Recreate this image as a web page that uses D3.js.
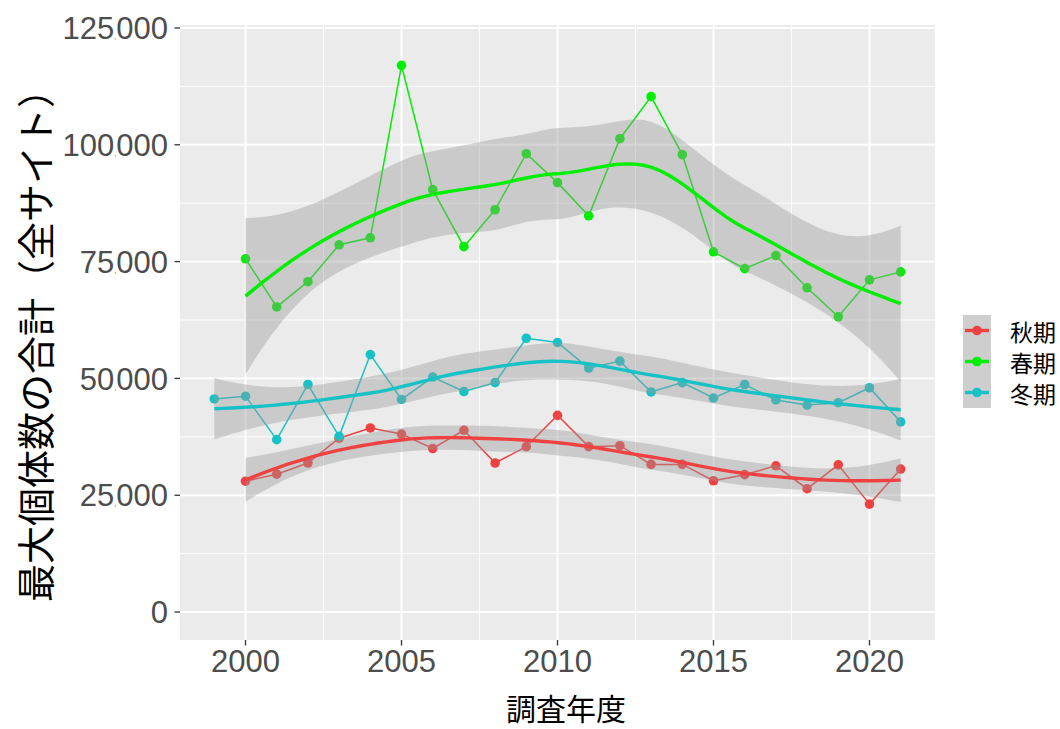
<!DOCTYPE html>
<html>
<head>
<meta charset="utf-8">
<script src="https://cdn.jsdelivr.net/npm/d3@7/dist/d3.min.js"></script>
<style>
body { margin: 0; background: #fff; }
text { font-family: "Liberation Sans", Arial, sans-serif; }
.jp { font-family: "Noto Sans CJK JP", sans-serif; }
</style>
</head>
<body>
<svg id="chart" width="1060" height="729"></svg>
<script>
// series
var seasons = ["秋期", "春期", "冬期"];
var seasonColors = ["#EE4242", "#00EE00", "#17C2C6"];

var autumnYears = [2000,2001,2002,2003,2004,2005,2006,2007,2008,2009,2010,2011,2012,2013,2014,2015,2016,2017,2018,2019,2020,2021];
var autumnValues = [28000,29500,31900,37200,39400,38100,35000,38900,31900,35400,42100,35400,35600,31600,31600,28100,29400,31300,26400,31500,23100,30600];

var springYears = [2000,2001,2002,2003,2004,2005,2006,2007,2008,2009,2010,2011,2012,2013,2014,2015,2016,2017,2018,2019,2020,2021];
var springValues = [75600,65300,70700,78600,80100,117000,90400,78200,86100,98100,91900,84800,101300,110300,97900,77100,73500,76300,69400,63200,71100,72800];

var winterYears = [1999,2000,2001,2002,2003,2004,2005,2006,2007,2008,2009,2010,2011,2012,2013,2014,2015,2016,2017,2018,2019,2020,2021];
var winterValues = [45600,46200,36900,48700,37600,55100,45500,50300,47200,49100,58600,57700,52200,53700,47100,49100,45800,48700,45400,44300,44800,48000,40700];

var yTicks = [0, 25000, 50000, 75000, 100000, 125000];
var yMinor = [12500, 37500, 62500, 87500, 112500];
var xTicks = [2000, 2005, 2010, 2015, 2020];
var xMinor = [2002.5, 2007.5, 2012.5, 2017.5];

var groups = [
  { name: seasons[0], color: seasonColors[0], x: autumnYears, y: autumnValues },
  { name: seasons[1], color: seasonColors[1], x: springYears, y: springValues },
  { name: seasons[2], color: seasonColors[2], x: winterYears, y: winterValues }
];

// --- loess (degree 2, span 0.75) with kd-tree vertices + cubic hermite, like R's default
function inv3(A) {
  var a = A[0][0], b = A[0][1], c = A[0][2], d = A[1][0], e = A[1][1], f = A[1][2], g = A[2][0], h = A[2][1], k = A[2][2];
  var det = a * (e * k - f * h) - b * (d * k - f * g) + c * (d * h - e * g);
  return [
    [(e * k - f * h) / det, (c * h - b * k) / det, (b * f - c * e) / det],
    [(f * g - d * k) / det, (a * k - c * g) / det, (c * d - a * f) / det],
    [(d * h - e * g) / det, (b * g - a * h) / det, (a * e - b * d) / det]
  ];
}

// operator rows for value and slope of the local fit at x0
function localOp(xs, x0, span) {
  var n = xs.length, q = Math.floor(n * span);
  var d = xs.map(function(x) { return Math.abs(x - x0); });
  var h = d.slice().sort(function(a, b) { return a - b; })[q - 1];
  var w = d.map(function(v) { var r = v / h; return r < 0.999 ? Math.pow(1 - r * r * r, 3) : 0; });
  var A = [[0,0,0],[0,0,0],[0,0,0]];
  xs.forEach(function(x, i) {
    var u = [1, x - x0, (x - x0) * (x - x0)];
    for (var j = 0; j < 3; j++) for (var k = 0; k < 3; k++) A[j][k] += w[i] * u[j] * u[k];
  });
  var Ai = inv3(A);
  var val = [], slope = [];
  xs.forEach(function(x, i) {
    var dx = x - x0;
    val.push(w[i] * (Ai[0][0] + Ai[0][1] * dx + Ai[0][2] * dx * dx));
    slope.push(w[i] * (Ai[1][0] + Ai[1][1] * dx + Ai[1][2] * dx * dx));
  });
  return { val: val, slope: slope };
}

// cells split at the median point until they hold few points
function kdVertices(xs, span) {
  var n = xs.length, fc = Math.floor(n * span * 0.2);
  var lo = xs[0], hi = xs[n - 1], mu = 0.005 * (hi - lo);
  var verts = [lo - mu, hi + mu];
  (function split(l, u) {
    if (u - l + 1 <= fc) return;
    var m = Math.floor((l + 1 + u + 1) / 2) - 1;
    verts.push(xs[m]);
    split(l, m);
    split(m + 1, u);
  })(0, n - 1);
  return verts.sort(function(a, b) { return a - b; });
}

function makeInterp(xs, span) {
  var verts = kdVertices(xs, span);
  var ops = verts.map(function(v) { return localOp(xs, v, span); });
  return function(x0) {
    var k = 0;
    while (k < verts.length - 2 && x0 > verts[k + 1]) k++;
    var h = verts[k + 1] - verts[k], t = (x0 - verts[k]) / h;
    var h00 = 2 * t * t * t - 3 * t * t + 1, h10 = t * t * t - 2 * t * t + t;
    var h01 = -2 * t * t * t + 3 * t * t, h11 = t * t * t - t * t;
    var a = ops[k], b = ops[k + 1];
    return a.val.map(function(v, i) {
      return h00 * v + h10 * h * a.slope[i] + h01 * b.val[i] + h11 * h * b.slope[i];
    });
  };
}

function qt975(df) {
  var z = 1.959964, z2 = z * z;
  var g1 = (z2 + 1) * z / 4;
  var g2 = ((5 * z2 + 16) * z2 + 3) * z / 96;
  var g3 = (((3 * z2 + 19) * z2 + 17) * z2 - 15) * z / 384;
  var g4 = ((((79 * z2 + 776) * z2 + 1482) * z2 - 1920) * z2 - 945) * z / 92160;
  return z + g1 / df + g2 / Math.pow(df, 2) + g3 / Math.pow(df, 3) + g4 / Math.pow(df, 4);
}

function smooth(xs, ys) {
  var n = xs.length, span = 0.75;
  var op = makeInterp(xs, span);
  var L = xs.map(function(x) { return op(x); });
  var IL = L.map(function(row, i) { return row.map(function(v, j) { return (i === j ? 1 : 0) - v; }); });
  var Mx = [];
  for (var i = 0; i < n; i++) {
    Mx.push([]);
    for (var j = 0; j < n; j++) {
      var s = 0;
      for (var k = 0; k < n; k++) s += IL[k][i] * IL[k][j];
      Mx[i].push(s);
    }
  }
  var d1 = 0, d2 = 0;
  for (var a = 0; a < n; a++) { d1 += Mx[a][a]; for (var b = 0; b < n; b++) d2 += Mx[a][b] * Mx[a][b]; }
  var rss = 0;
  L.forEach(function(row, i) { var f = d3.sum(row, function(v, j) { return v * ys[j]; }); rss += (ys[i] - f) * (ys[i] - f); });
  var sigma = Math.sqrt(rss / d1), t = qt975(d1 * d1 / d2);
  var lo = d3.min(xs), hi = d3.max(xs);
  return d3.range(80).map(function(i) {
    var x0 = lo + i * (hi - lo) / 79;
    var row = op(x0);
    var fit = d3.sum(row, function(v, j) { return v * ys[j]; });
    var se = sigma * Math.sqrt(d3.sum(row, function(v) { return v * v; }));
    return { x: x0, fit: fit, lo: fit - t * se, hi: fit + t * se };
  });
}

var svg = d3.select("#chart");
var panel = { left: 180, right: 935, top: 25, bottom: 640 };

var x = d3.scaleLinear().domain([1997.9, 2022.1]).range([panel.left, panel.right]);
var y = d3.scaleLinear().domain([-5983, 125639]).range([panel.bottom, panel.top]);

svg.append("rect")
  .attr("x", panel.left).attr("y", panel.top)
  .attr("width", panel.right - panel.left).attr("height", panel.bottom - panel.top)
  .attr("fill", "#EBEBEB");

svg.append("clipPath").attr("id", "clip").append("rect")
  .attr("x", panel.left).attr("y", panel.top)
  .attr("width", panel.right - panel.left).attr("height", panel.bottom - panel.top);

var grid = svg.append("g");
grid.selectAll(".ymin").data(yMinor).enter().append("line")
  .attr("x1", panel.left).attr("x2", panel.right)
  .attr("y1", function(d) { return y(d); }).attr("y2", function(d) { return y(d); })
  .attr("stroke", "#fff").attr("stroke-width", 0.9);
grid.selectAll(".xmin").data(xMinor).enter().append("line")
  .attr("y1", panel.top).attr("y2", panel.bottom)
  .attr("x1", function(d) { return x(d); }).attr("x2", function(d) { return x(d); })
  .attr("stroke", "#fff").attr("stroke-width", 0.9);
grid.selectAll(".ymaj").data(yTicks).enter().append("line")
  .attr("x1", panel.left).attr("x2", panel.right)
  .attr("y1", function(d) { return y(d); }).attr("y2", function(d) { return y(d); })
  .attr("stroke", "#fff").attr("stroke-width", 1.9);
grid.selectAll(".xmaj").data(xTicks).enter().append("line")
  .attr("y1", panel.top).attr("y2", panel.bottom)
  .attr("x1", function(d) { return x(d); }).attr("x2", function(d) { return x(d); })
  .attr("stroke", "#fff").attr("stroke-width", 1.9);

var plot = svg.append("g").attr("clip-path", "url(#clip)");

// raw lines
var line = d3.line().x(function(d) { return x(d[0]); }).y(function(d) { return y(d[1]); });
groups.forEach(function(g) {
  plot.append("path")
    .datum(g.x.map(function(v, i) { return [v, g.y[i]]; }))
    .attr("d", line).attr("fill", "none")
    .attr("stroke", g.color).attr("stroke-width", 1.5);
});

// points
groups.forEach(function(g) {
  plot.selectAll(null).data(g.x.map(function(v, i) { return [v, g.y[i]]; })).enter()
    .append("circle")
    .attr("cx", function(d) { return x(d[0]); })
    .attr("cy", function(d) { return y(d[1]); })
    .attr("r", 4.8).attr("fill", g.color);
});

// smooths with confidence band
var area = d3.area().x(function(d) { return x(d.x); })
  .y0(function(d) { return y(d.lo); }).y1(function(d) { return y(d.hi); });
var fitLine = d3.line().x(function(d) { return x(d.x); }).y(function(d) { return y(d.fit); });
groups.forEach(function(g) {
  var s = smooth(g.x, g.y);
  plot.append("path").datum(s).attr("d", area)
    .attr("fill", "#999999").attr("fill-opacity", 0.4);
  plot.append("path").datum(s).attr("d", fitLine)
    .attr("fill", "none").attr("stroke", g.color).attr("stroke-width", 3.4);
});

// axes
var yAxis = svg.append("g");
yAxis.selectAll("line").data(yTicks).enter().append("line")
  .attr("x1", panel.left - 5.5).attr("x2", panel.left)
  .attr("y1", function(d) { return y(d); }).attr("y2", function(d) { return y(d); })
  .attr("stroke", "#333").attr("stroke-width", 1.3);
yAxis.selectAll("text").data(yTicks).enter().append("text")
  .attr("x", panel.left - 12).attr("y", function(d) { return y(d); })
  .attr("dy", "0.36em").attr("text-anchor", "end")
  .attr("font-size", 31).attr("fill", "#4D4D4D")
  .each(function(d) {
    var t = d3.select(this);
    if (d < 1000) { t.text(d); return; }
    var s = String(d);
    t.append("tspan").text(s.slice(0, s.length - 3));
    t.append("tspan").attr("font-size", 7).text(",");
    t.append("tspan").text(s.slice(-3));
  });

var xAxis = svg.append("g");
xAxis.selectAll("line").data(xTicks).enter().append("line")
  .attr("y1", panel.bottom).attr("y2", panel.bottom + 5.5)
  .attr("x1", function(d) { return x(d); }).attr("x2", function(d) { return x(d); })
  .attr("stroke", "#333").attr("stroke-width", 1.3);
xAxis.selectAll("text").data(xTicks).enter().append("text")
  .attr("x", function(d) { return x(d); }).attr("y", 672)
  .attr("text-anchor", "middle")
  .attr("font-size", 31).attr("fill", "#4D4D4D")
  .text(function(d) { return d; });

svg.append("text").attr("class", "jp")
  .attr("x", 566).attr("y", 720)
  .attr("text-anchor", "middle").attr("font-size", 30).attr("fill", "#000")
  .text("調査年度");

svg.append("text").attr("class", "jp")
  .attr("transform", "translate(33,336) rotate(-90)")
  .attr("text-anchor", "middle").attr("dominant-baseline", "central")
  .attr("font-size", 38).attr("fill", "#000")
  .text("最大個体数の合計（全サイト）");

// legend
var legend = svg.append("g").attr("transform", "translate(963,315)");
groups.forEach(function(g, i) {
  var row = legend.append("g").attr("transform", "translate(0," + (i * 31) + ")");
  row.append("rect").attr("width", 28).attr("height", 31).attr("fill", "#F2F2F2");
  row.append("rect").attr("width", 28).attr("height", 31).attr("fill", "#999999").attr("fill-opacity", 0.4);
  row.append("line").attr("x1", 2).attr("x2", 26).attr("y1", 15.5).attr("y2", 15.5)
    .attr("stroke", g.color).attr("stroke-width", 3.4);
  row.append("circle").attr("cx", 14).attr("cy", 15.5).attr("r", 4.8).attr("fill", g.color);
  row.append("text").attr("class", "jp")
    .attr("x", 47).attr("y", 15.5).attr("dominant-baseline", "central")
    .attr("font-size", 23).attr("fill", "#000").text(g.name);
});
</script>
</body>
</html>
